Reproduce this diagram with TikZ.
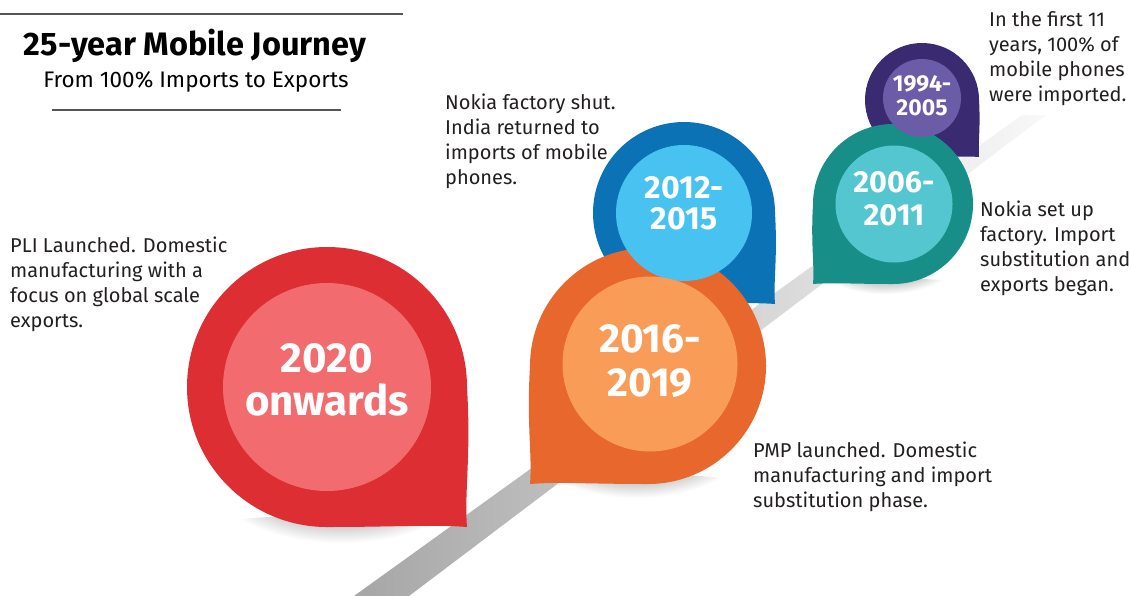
\documentclass[tikz,border=0pt]{standalone}
\usepackage{fontspec}
\setmainfont{Fira Sans}
\usetikzlibrary{fadings}

\definecolor{redpin}{HTML}{DC2E33}
\definecolor{redin}{HTML}{F26C6F}
\definecolor{orangepin}{HTML}{E8672D}
\definecolor{orangein}{HTML}{F89C58}
\definecolor{bluepin}{HTML}{0B72B5}
\definecolor{bluein}{HTML}{48C2F0}
\definecolor{tealpin}{HTML}{178F88}
\definecolor{tealin}{HTML}{54C6D0}
\definecolor{purplepin}{HTML}{3A2A72}
\definecolor{purplein}{HTML}{6A5CA7}
\definecolor{ink}{HTML}{231F20}
\definecolor{rulegray}{HTML}{555555}

\tikzfading[name=softshadow, inner color=transparent!15, outer color=transparent!100]

\tikzset{
  year/.style={circle, inner sep=0pt},
  yearlabel/.style={text=white, align=center, inner sep=0pt},
  % anchored at the baseline of the last line
  note/.style={anchor=base west, align=left, text=ink, inner sep=0pt,
    font=\fontsize{20}{25}\selectfont},
  pinshadow/.style={fill=black, path fading=softshadow},
}

% tear drop with its point at the lower right: centre, radius, colour
\newcommand{\pinR}[3]{%
  \fill[pinshadow] (#1) ++(0.1*#2,#2+2) ellipse[x radius=#2, y radius=0.1*#2];
  \fill[#3] (#1) ++(0,#2) arc[start angle=90, end angle=360, radius=#2]
    .. controls +(0.03*#2,0.5*#2) and +(-0.02*#2,-0.25*#2) .. ++(0,#2)
    .. controls +(-0.25*#2,-0.02*#2) and +(0.5*#2,0) .. ++(-#2,0) -- cycle;}
% same, point at the lower left
\newcommand{\pinL}[3]{%
  \fill[pinshadow] (#1) ++(-0.1*#2,#2+2) ellipse[x radius=#2, y radius=0.1*#2];
  \fill[#3] (#1) ++(-#2,0) arc[start angle=180, end angle=450, radius=#2]
    .. controls +(-0.5*#2,0) and +(0.25*#2,-0.02*#2) .. ++(-#2,0)
    .. controls +(0.02*#2,-0.25*#2) and +(-0.03*#2,0.5*#2) .. ++(0,-#2) -- cycle;}

\begin{document}
\begin{tikzpicture}[x=1pt,y=-1pt]
\useasboundingbox (0,0) rectangle (1131,595);

% road
\shade[left color=gray!70, right color=gray!5]
  (354,596) -- (409,596) -- (1046,115) -- (1022,115) -- cycle;

% pins, back to front
\pinR{922,100}{57}{purplepin}
\pinL{893,204}{80}{tealpin}
\pinR{684,213}{91}{bluepin}
\pinL{648,366}{118}{orangepin}
\pinR{327,387}{140}{redpin}

\node[year, fill=purplein, minimum size=78] (y1994) at (922,98) {};
\node[year, fill=tealin, minimum size=117] (y2006) at (894,204) {};
\node[year, fill=bluein, minimum size=136] (y2012) at (684,213) {};
\node[year, fill=orangein, minimum size=175] (y2016) at (650,364) {};
\node[year, fill=redin, minimum size=208] (y2020) at (327,387) {};

\node[yearlabel, font=\bfseries\fontsize{23}{24}\selectfont] (t1994) at ([yshift=2]y1994.center) {1994-\\2005};
\node[yearlabel, font=\bfseries\fontsize{30.5}{33}\selectfont] (t2006) at ([yshift=5]y2006.center) {2006-\\2011};
\node[yearlabel, font=\bfseries\fontsize{32}{31}\selectfont] (t2012) at ([yshift=10]y2012.center) {2012-\\2015};
\node[yearlabel, font=\bfseries\fontsize{40.5}{44}\selectfont] (t2016) at ([yshift=3]y2016.center) {2016-\\2019};
\node[yearlabel, font=\bfseries\fontsize{42}{43}\selectfont] (t2020) at ([yshift=7]y2020.center) {2020\\onwards};

% notes
\node[note] (n1994) at (989,101) {In the first 11\\years, 100\% of\\mobile phones\\were imported.};
\node[note] (n2006) at (980,291) {Nokia set up\\factory. Import\\substitution and\\exports began.};
\node[note] (n2012) at (445,184) {Nokia factory shut.\\India returned to\\imports of mobile\\phones.};
\node[note] (n2016) at (753,507) {PMP launched. Domestic\\manufacturing and import\\substitution phase.};
\node[note] (n2020) at (10,327) {PLI Launched. Domestic\\manufacturing with a\\focus on global scale\\exports.};

% heading
\draw[rulegray, line width=1.3] (0,14) -- (403,14);
\node[anchor=base, font=\bfseries\fontsize{32.5}{34}\selectfont] (title) at (195,55) {25-year Mobile Journey};
\node[anchor=base, font=\fontsize{22.5}{24}\selectfont] (subtitle) at (196,87) {From 100\% Imports to Exports};
\draw[rulegray, line width=1.3] (52,110) -- (341,110);
\end{tikzpicture}
\end{document}
